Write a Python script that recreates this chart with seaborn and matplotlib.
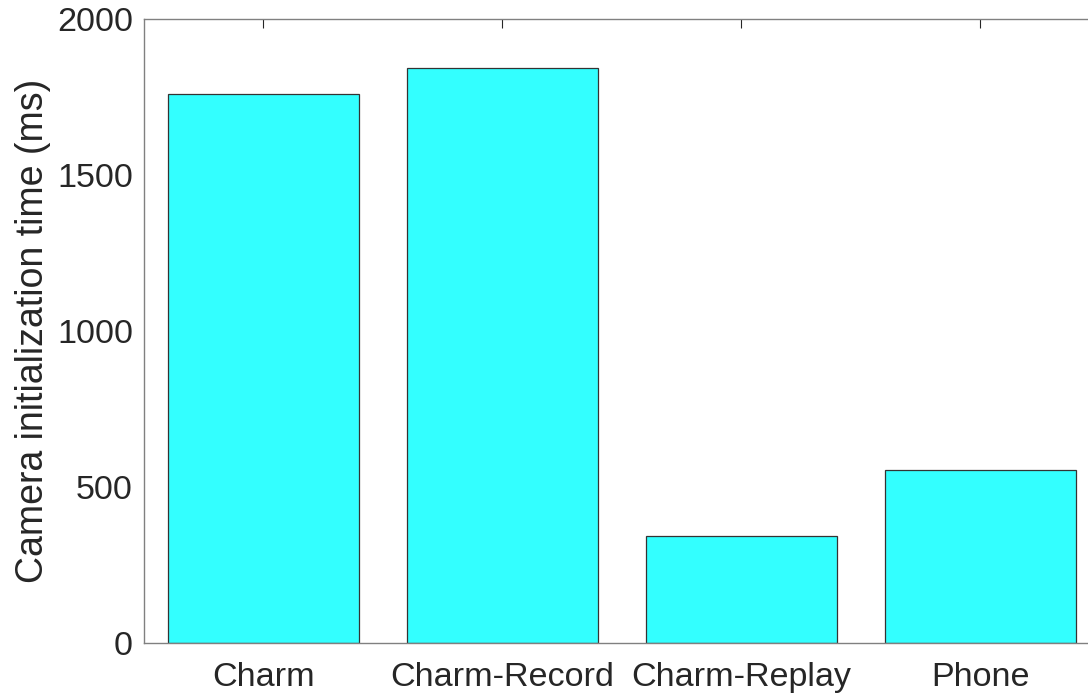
import matplotlib
matplotlib.use("Agg")
import matplotlib.pyplot as plt
import seaborn as sns
import pandas as pd

categories = ["Charm", "Charm-Record", "Charm-Replay", "Phone"]
values = [1760, 1843, 343, 554]
y_ticks = [0, 500, 1000, 1500, 2000]

sns.set_style("white")
plt.rcParams["font.family"] = ["Liberation Sans", "DejaVu Sans"]

df = pd.DataFrame({"category": categories, "value": values})

fig = plt.figure(figsize=(10.88, 6.98), dpi=100)
ax = fig.add_axes([0.1324, 0.0788, 1.0106 - 0.1324, 0.9728 - 0.0788])
sns.barplot(data=df, x="category", y="value", color="#33FFFF", saturation=1,
            width=0.8, edgecolor="#333333", linewidth=0.9, ax=ax)
ax.set_xlim(-0.5, 3.5)
ax.set_ylim(0, 2000)
ax.set_yticks(y_ticks)
ax.set_xlabel("")
ax.set_ylabel("Camera initialization time (ms)", fontsize=27, color="#262626")
ax.yaxis.set_label_coords(-0.0976, 0.5)
ax.tick_params(axis="both", labelsize=24.6, colors="#262626", direction="in",
               length=6.5, width=0.8, top=True, right=False)
ax.tick_params(axis="x", pad=14)
ax.tick_params(axis="y", pad=8)
for side in ["left", "bottom", "top", "right"]:
    ax.spines[side].set_color("#808080")
    ax.spines[side].set_linewidth(1.0)
    ax.spines[side].set_visible(True)
ax.grid(False)
fig.savefig("out.png", dpi=100)
